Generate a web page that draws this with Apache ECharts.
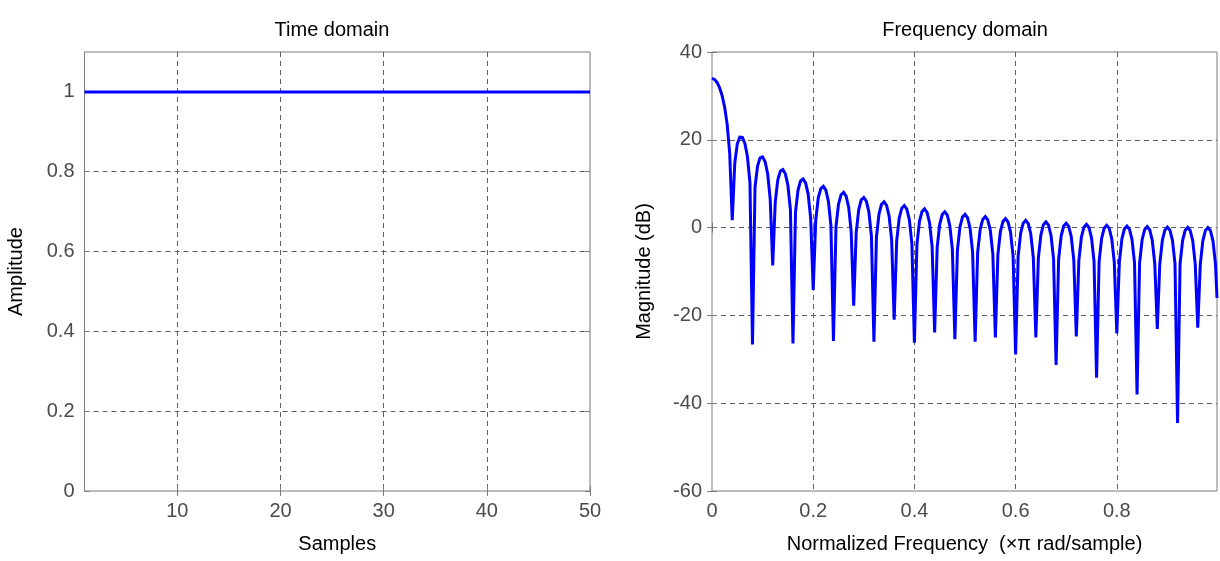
<!DOCTYPE html>
<html>
<head>
<meta charset="utf-8">
<script src="https://cdn.jsdelivr.net/npm/echarts@6/dist/echarts.min.js"></script>
<style>
html,body{margin:0;padding:0;background:#fff;}
#chart{width:1220px;height:561px;}
</style>
</head>
<body>
<div id="chart"></div>
<script>
// ---------- Data ----------
const timeSamples = [1,2,3,4,5,6,7,8,9,10,11,12,13,14,15,16,17,18,19,20,21,22,23,24,25,
  26,27,28,29,30,31,32,33,34,35,36,37,38,39,40,41,42,43,44,45,46,47,48,49,50];
const timeAmplitude = [1,1,1,1,1,1,1,1,1,1,1,1,1,1,1,1,1,1,1,1,1,1,1,1,1,
  1,1,1,1,1,1,1,1,1,1,1,1,1,1,1,1,1,1,1,1,1,1,1,1,1];

const freqAxis = [
  0, 0.005, 0.01, 0.015, 0.02, 0.025, 0.03, 0.035,
  0.04, 0.045, 0.05, 0.055, 0.06, 0.065, 0.07, 0.075,
  0.08, 0.085, 0.09, 0.095, 0.10, 0.105, 0.11, 0.115,
  0.12, 0.125, 0.13, 0.135, 0.14, 0.145, 0.15, 0.155,
  0.16, 0.165, 0.17, 0.175, 0.18, 0.185, 0.19, 0.195,
  0.20, 0.205, 0.21, 0.215, 0.22, 0.225, 0.23, 0.235,
  0.24, 0.245, 0.25, 0.255, 0.26, 0.265, 0.27, 0.275,
  0.28, 0.285, 0.29, 0.295, 0.30, 0.305, 0.31, 0.315,
  0.32, 0.325, 0.33, 0.335, 0.34, 0.345, 0.35, 0.355,
  0.36, 0.365, 0.37, 0.375, 0.38, 0.385, 0.39, 0.395,
  0.40, 0.405, 0.41, 0.415, 0.42, 0.425, 0.43, 0.435,
  0.44, 0.445, 0.45, 0.455, 0.46, 0.465, 0.47, 0.475,
  0.48, 0.485, 0.49, 0.495, 0.50, 0.505, 0.51, 0.515,
  0.52, 0.525, 0.53, 0.535, 0.54, 0.545, 0.55, 0.555,
  0.56, 0.565, 0.57, 0.575, 0.58, 0.585, 0.59, 0.595,
  0.60, 0.605, 0.61, 0.615, 0.62, 0.625, 0.63, 0.635,
  0.64, 0.645, 0.65, 0.655, 0.66, 0.665, 0.67, 0.675,
  0.68, 0.685, 0.69, 0.695, 0.70, 0.705, 0.71, 0.715,
  0.72, 0.725, 0.73, 0.735, 0.74, 0.745, 0.75, 0.755,
  0.76, 0.765, 0.77, 0.775, 0.78, 0.785, 0.79, 0.795,
  0.80, 0.805, 0.81, 0.815, 0.82, 0.825, 0.83, 0.835,
  0.84, 0.845, 0.85, 0.855, 0.86, 0.865, 0.87, 0.875,
  0.88, 0.885, 0.89, 0.895, 0.90, 0.905, 0.91, 0.915,
  0.92, 0.925, 0.93, 0.935, 0.94, 0.945, 0.95, 0.955,
  0.96, 0.965, 0.97, 0.975, 0.98, 0.985, 0.99, 0.995,
  0.998
];
const magnitudeDb = [
  33.98, 33.76, 33.07, 31.87, 30.06, 27.43, 23.53, 16.86,
  1.7, 14.68, 19.10, 20.59, 20.53, 19.15, 16.18, 10.26,
  -26.6, 9.18, 14.01, 15.87, 16.11, 15.00, 12.28, 6.57,
  -8.6, 5.87, 10.86, 12.86, 13.23, 12.25, 9.64, 4.03,
  -26.4, 3.49, 8.57, 10.64, 11.09, 10.17, 7.63, 2.08,
  -14.2, 1.65, 6.78, 8.90, 9.40, 8.53, 6.02, 0.52,
  -25.8, 0.17, 5.33, 7.49, 8.02, 7.18, 4.70, -0.77,
  -17.8, -1.06, 4.12, 6.31, 6.86, 6.04, 3.59, -1.87,
  -26.0, -2.12, 3.09, 5.29, 5.87, 5.06, 2.63, -2.81,
  -21.0, -3.03, 2.20, 4.41, 5.00, 4.21, 1.80, -3.63,
  -26.2, -3.81, 1.42, 3.65, 4.25, 3.47, 1.07, -4.35,
  -23.9, -4.51, 0.74, 2.98, 3.59, 2.82, 0.43, -4.98,
  -25.4, -5.12, 0.14, 2.39, 3.01, 2.25, -0.13, -5.53,
  -26.0, -5.65, -0.39, 1.87, 2.50, 1.75, -0.63, -6.02,
  -25.0, -6.13, -0.86, 1.41, 2.05, 1.30, -1.07, -6.45,
  -28.9, -6.55, -1.27, 1.01, 1.65, 0.91, -1.45, -6.83,
  -25.0, -6.91, -1.62, 0.65, 1.30, 0.57, -1.79, -7.15,
  -31.3, -7.23, -1.94, 0.35, 1.00, 0.28, -2.08, -7.44,
  -24.8, -7.50, -2.20, 0.09, 0.75, 0.03, -2.32, -7.68,
  -34.2, -7.73, -2.43, -0.13, 0.53, -0.18, -2.53, -7.88,
  -24.1, -7.92, -2.61, -0.32, 0.35, -0.36, -2.70, -8.05,
  -38.0, -8.08, -2.77, -0.46, 0.21, -0.49, -2.83, -8.17,
  -23.1, -8.19, -2.88, -0.57, 0.11, -0.59, -2.92, -8.26,
  -44.5, -8.28, -2.96, -0.64, 0.04, -0.66, -2.98, -8.32,
  -22.8, -8.33, -3.00, -0.69, 0.00, -0.69, -3.01, -8.34,
  -16.0
];

const timeXTicks = [10, 20, 30, 40, 50];
const timeYTicks = [0, 0.2, 0.4, 0.6, 0.8, 1];
const freqXTicks = [0, 0.2, 0.4, 0.6, 0.8];
const freqYTicks = [-60, -40, -20, 0, 20, 40];

// ---------- Chart ----------
const FONT = 'Liberation Sans, Arial, sans-serif';
const GRAY = '#7a7a7a';
const GRID = '#606060';

function tickAxis(gridIndex, min, max, ticks, showMin, showMax, opts) {
  return Object.assign({
    type: 'value', gridIndex: gridIndex, min: min, max: max,
    axisLine: { show: false },
    axisTick: { show: true, inside: true, length: 5, customValues: ticks,
      lineStyle: { color: GRAY, width: 1 } },
    axisLabel: { show: true, customValues: ticks, margin: 10, fontSize: 20,
      fontFamily: FONT, color: '#4a4a4a',
      formatter: function (v) { return String(+v.toFixed(2)); } },
    splitLine: { show: true, showMinLine: showMin, showMaxLine: showMax,
      lineStyle: { color: GRID, type: [5, 4], width: 1 } },
    nameTextStyle: { fontSize: 20, fontFamily: FONT, color: '#000' }
  }, opts || {});
}
function mirrorAxis(gridIndex, min, max, ticks, position) {
  return {
    type: 'value', gridIndex: gridIndex, min: min, max: max, position: position,
    axisLine: { show: false },
    axisTick: { show: true, inside: true, length: 5, customValues: ticks,
      lineStyle: { color: GRAY, width: 1 } },
    axisLabel: { show: false },
    splitLine: { show: false }
  };
}

const chart = echarts.init(document.getElementById('chart'), null, { renderer: 'canvas' });
chart.setOption({
  animation: false,
  backgroundColor: '#ffffff',
  title: [
    { text: 'Time domain', left: 332, top: 20, textAlign: 'center', padding: 0,
      textStyle: { fontSize: 20, fontWeight: 'normal', color: '#000', fontFamily: FONT } },
    { text: 'Frequency domain', left: 965, top: 20, textAlign: 'center', padding: 0,
      textStyle: { fontSize: 20, fontWeight: 'normal', color: '#000', fontFamily: FONT } }
  ],
  grid: [
    { left: 84.5, top: 52, width: 505.5, height: 439, show: true,
      borderColor: GRAY, borderWidth: 1, backgroundColor: '#fff' },
    { left: 712, top: 52, width: 505, height: 439, show: true,
      borderColor: GRAY, borderWidth: 1, backgroundColor: '#fff' }
  ],
  xAxis: [
    tickAxis(0, 1, 50, timeXTicks, true, false, { name: 'Samples', nameLocation: 'middle', nameGap: 43, position: 'bottom' }),
    tickAxis(1, 0, 0.998, freqXTicks, false, true, { name: 'Normalized Frequency  (\u00d7\u03c0 rad/sample)', nameLocation: 'middle', nameGap: 43, position: 'bottom' }),
    mirrorAxis(0, 1, 50, timeXTicks, 'top'),
    mirrorAxis(1, 0, 0.998, freqXTicks, 'top')
  ],
  yAxis: [
    tickAxis(0, 0, 1.1, timeYTicks, false, true, { name: 'Amplitude', nameLocation: 'middle', nameGap: 58, position: 'left' }),
    tickAxis(1, -60, 40, freqYTicks, false, false, { name: 'Magnitude (dB)', nameLocation: 'middle', nameGap: 58, position: 'left' }),
    mirrorAxis(0, 0, 1.1, timeYTicks, 'right'),
    mirrorAxis(1, -60, 40, freqYTicks, 'right')
  ],
  series: [
    {
      type: 'line', xAxisIndex: 0, yAxisIndex: 0, showSymbol: false, symbol: 'none',
      lineStyle: { color: '#0000ff', width: 3 },
      data: timeSamples.map(function (s, i) { return [s, timeAmplitude[i]]; })
    },
    {
      type: 'line', xAxisIndex: 1, yAxisIndex: 1, showSymbol: false, symbol: 'none',
      lineStyle: { color: '#0000ff', width: 3, join: 'miter' },
      data: freqAxis.map(function (f, i) { return [f, magnitudeDb[i]]; })
    }
  ]
});
</script>
</body>
</html>
